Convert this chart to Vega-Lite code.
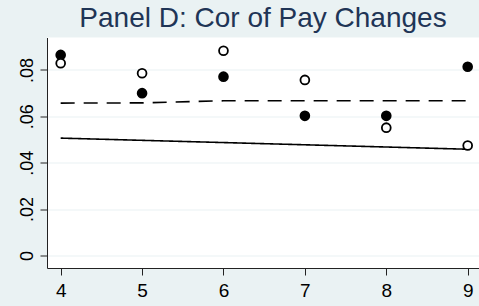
{
  "$schema": "https://vega.github.io/schema/vega-lite/v6.json",
  "width": 432,
  "height": 230.5,
  "autosize": {"type": "none"},
  "padding": {"left": 47, "top": 37.5, "right": 0, "bottom": 37.5},
  "background": "#EAF2F3",
  "config": {
    "view": {"fill": "white", "stroke": null},
    "font": "Liberation Sans"
  },
  "title": {
    "text": "Panel D: Cor of Pay Changes",
    "fontSize": 28,
    "fontWeight": "normal",
    "font": "Liberation Sans",
    "color": "#1F3556",
    "anchor": "middle",
    "frame": "group",
    "baseline": "bottom",
    "offset": 4,
    "dy": 27
  },
  "datasets": {
    "points": [
      {"x": 4, "value": 0.0865, "type": "filled"},
      {"x": 4, "value": 0.0829, "type": "hollow"},
      {"x": 5, "value": 0.0786, "type": "hollow"},
      {"x": 5, "value": 0.0700, "type": "filled"},
      {"x": 6, "value": 0.0883, "type": "hollow"},
      {"x": 6, "value": 0.0771, "type": "filled"},
      {"x": 7, "value": 0.0757, "type": "hollow"},
      {"x": 7, "value": 0.0602, "type": "filled"},
      {"x": 8, "value": 0.0602, "type": "filled"},
      {"x": 8, "value": 0.0551, "type": "hollow"},
      {"x": 9, "value": 0.0814, "type": "filled"},
      {"x": 9, "value": 0.0474, "type": "hollow"}
    ],
    "lines": [
      {"x": 4, "value": 0.0506, "series": "solid"},
      {"x": 9, "value": 0.0458, "series": "solid"},
      {"x": 4, "value": 0.0657, "series": "dashed"},
      {"x": 5, "value": 0.0658, "series": "dashed"},
      {"x": 6, "value": 0.0667, "series": "dashed"},
      {"x": 7, "value": 0.0667, "series": "dashed"},
      {"x": 8, "value": 0.0667, "series": "dashed"},
      {"x": 9, "value": 0.0667, "series": "dashed"}
    ]
  },
  "encoding": {
    "x": {
      "field": "x",
      "type": "quantitative",
      "scale": {"domain": [3.832, 9.139], "nice": false, "zero": false},
      "axis": {
        "title": null,
        "values": [4, 5, 6, 7, 8, 9],
        "grid": false,
        "domainColor": "#222222",
        "domainWidth": 1,
        "tickColor": "#222222",
        "tickSize": 7,
        "tickWidth": 1,
        "labelFontSize": 19,
        "labelColor": "#000000",
        "labelPadding": 6,
        "labelFont": "Liberation Sans"
      }
    },
    "y": {
      "field": "value",
      "type": "quantitative",
      "scale": {"domain": [-0.00543, 0.094], "nice": false, "zero": false},
      "axis": {
        "title": null,
        "values": [0, 0.02, 0.04, 0.06, 0.08],
        "labelExpr": "datum.value == 0 ? '0' : replace(format(datum.value, '.2f'), '0.', '.')",
        "grid": true,
        "gridColor": "#EAF2F3",
        "gridWidth": 1.2,
        "domainColor": "#222222",
        "domainWidth": 1,
        "tickColor": "#222222",
        "tickSize": 7,
        "tickWidth": 1,
        "labelAngle": -90,
        "labelAlign": "center",
        "labelBaseline": "alphabetic",
        "labelPadding": 8,
        "labelFontSize": 18,
        "labelColor": "#000000",
        "labelFont": "Liberation Sans"
      }
    }
  },
  "layer": [
    {
      "data": {"name": "lines"},
      "mark": {"type": "line", "color": "#000000", "strokeWidth": 1.6},
      "encoding": {
        "detail": {"field": "series"},
        "strokeDash": {
          "field": "series",
          "type": "nominal",
          "scale": {"domain": ["solid", "dashed"], "range": [[1, 0], [14, 9]]},
          "legend": null
        }
      }
    },
    {
      "data": {"name": "points"},
      "mark": {"type": "point", "shape": "circle", "filled": true, "stroke": "#000000", "strokeWidth": 1.8, "size": 78, "opacity": 1},
      "encoding": {
        "fill": {
          "field": "type",
          "type": "nominal",
          "scale": {"domain": ["filled", "hollow"], "range": ["#000000", "#FFFFFF"]},
          "legend": null
        }
      }
    }
  ]
}
